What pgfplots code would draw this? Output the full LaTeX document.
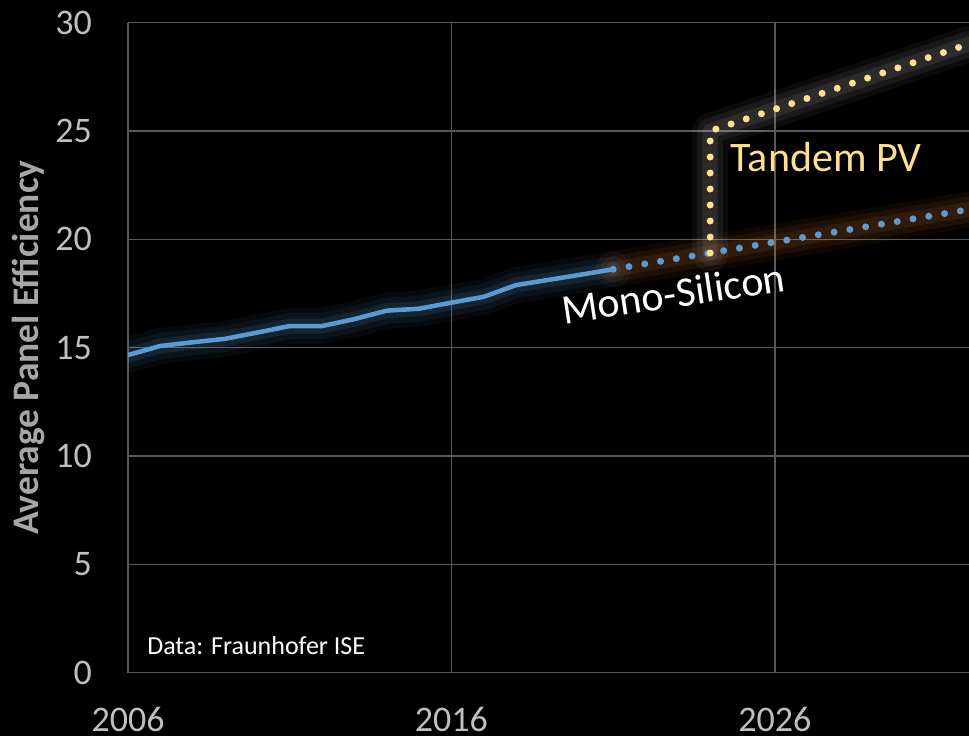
\documentclass[border=0pt]{standalone}
\usepackage{pgfplots}
\usepackage{pgfplotstable}
\pgfplotsset{compat=1.18}
\usepackage{fontspec}
\setmainfont{Carlito}
\definecolor{monoblue}{HTML}{5B9BD5}
\definecolor{tandem}{HTML}{FFE08C}
\definecolor{gridgrey}{HTML}{595959}
\definecolor{ticklab}{HTML}{BFBFBF}
\definecolor{ylab}{HTML}{A6A6A6}
\definecolor{glowor}{HTML}{ED7D31}

\pgfplotstableread{
year eff
2006 14.66
2007 15.08
2008 15.25
2009 15.41
2010 15.70
2011 16.00
2012 16.00
2013 16.32
2014 16.71
2015 16.80
2016 17.08
2017 17.35
2018 17.89
2019 18.13
2020 18.37
2021 18.62
}\monohist
\pgfplotstableread{
year eff
2021 18.62
2032 21.38
}\monoproj
\pgfplotstableread{
year eff
2024 19.37
2024 25.00
2032 29.02
}\tandemproj

\begin{document}
\begin{tikzpicture}
\fill[black] (-128pt,-63.3pt) rectangle (841pt,672.7pt);
\begin{axis}[
 at={(0,0)}, anchor=south west,
 scale only axis, width=841pt, height=650pt,
 xmin=2006, xmax=2032, ymin=0, ymax=30,
 axis x line*=bottom, axis y line*=left,
 axis line style={draw=gridgrey, line width=1.5pt, -},
 xtick={2006,2016,2026}, xticklabels={2006,2016,2026},
 ytick={0,5,10,15,20,25,30},
 major tick length=0pt,
 grid=major, grid style={draw=gridgrey, line width=1.5pt},
 /pgf/number format/assume math mode=true,
 tick label style={font=\fontsize{36}{40}\selectfont, text=ticklab, inner sep=0pt},
 xticklabel style={anchor=north, yshift=-34pt},
 yticklabel style={anchor=east, xshift=-36pt},
 ylabel={Average Panel Efficiency},
 ylabel style={at={(axis description cs:-0.1189,0.5)}, anchor=center, font=\fontsize{37.5}{41}\selectfont\bfseries, text=ylab},
 every axis plot/.append style={line join=round, line cap=round},
]
% glows
\addplot[draw=monoblue, line width=36pt, opacity=0.06] table[x=year,y=eff] {\monohist};
\addplot[draw=monoblue, line width=26pt, opacity=0.08] table[x=year,y=eff] {\monohist};
\addplot[draw=monoblue, line width=15pt, opacity=0.12] table[x=year,y=eff] {\monohist};
\addplot[draw=glowor, line width=36pt, opacity=0.06] table[x=year,y=eff] {\monoproj};
\addplot[draw=glowor, line width=26pt, opacity=0.08] table[x=year,y=eff] {\monoproj};
\addplot[draw=glowor, line width=15pt, opacity=0.10] table[x=year,y=eff] {\monoproj};
\addplot[draw=white, line width=36pt, opacity=0.045] table[x=year,y=eff] {\tandemproj};
\addplot[draw=white, line width=26pt, opacity=0.06] table[x=year,y=eff] {\tandemproj};
\addplot[draw=white, line width=15pt, opacity=0.08] table[x=year,y=eff] {\tandemproj};
% lines
\addplot[draw=monoblue, line width=4.5pt] table[x=year,y=eff] {\monohist};
\addplot[draw=monoblue, line width=7pt, dash pattern=on 0pt off 16pt] table[x=year,y=eff] {\monoproj};
\addplot[draw=tandem, line width=7pt, dash pattern=on 0pt off 16pt] table[x=year,y=eff] {\tandemproj};
% labels
\node[anchor=base, rotate=8.5, text=white, inner sep=0pt, font=\fontsize{42}{46}\selectfont] at (axis cs:2022.93,16.85) {Mono-Silicon};
\node[anchor=base west, text=tandem, inner sep=0pt, font=\fontsize{42}{46}\selectfont] at (axis cs:2024.63,23.12) {Tandem PV};
\node[anchor=base west, text=white, inner sep=0pt, font=\fontsize{26}{30}\selectfont] at (axis cs:2006.59,0.82) {Data: Fraunhofer ISE};
\end{axis}
\pgfresetboundingbox
\path[use as bounding box] (-128pt,-63.3pt) rectangle (841pt,672.7pt);
\end{tikzpicture}
\end{document}
